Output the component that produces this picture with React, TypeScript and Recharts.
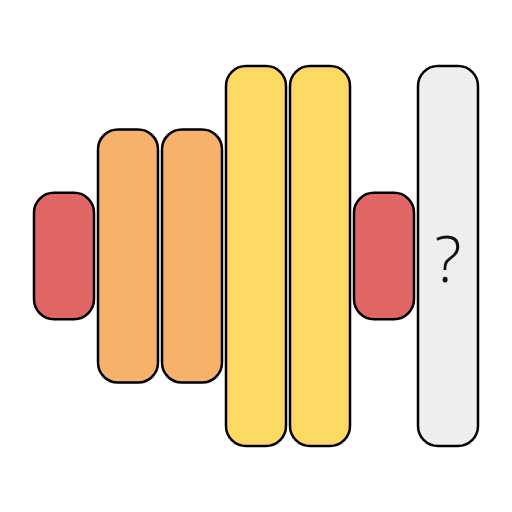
import { BarChart, Bar, XAxis, YAxis, Cell, LabelList } from "recharts";

// floating bars centred on zero: [low, high]
const categories = ["a", "b", "c", "d", "e", "f", "g"];
const lows = [-1, -2, -2, -3, -3, -1, -3];
const highs = [1, 2, 2, 3, 3, 1, 3];
const labels = ["", "", "", "", "", "", "?"];
const colors = ["#E06666", "#F6B26B", "#F6B26B", "#FFD966", "#FFD966", "#E06666", "#EEEEEE"];

const data = categories.map((c, i) => ({
  name: c,
  range: [lows[i], highs[i]],
  label: labels[i],
}));

export default function App() {
  return (
    <div style={{ position: "absolute", left: 0, top: 0, width: 512, height: 512, background: "#fff" }}>
      <BarChart
        width={512}
        height={512}
        data={data}
        margin={{ top: 0, right: 32, bottom: 0, left: 32 }}
        barSize={60}
      >
        <XAxis dataKey="name" hide />
        <YAxis hide domain={[-4.044, 4.044]} />
        <Bar dataKey="range" radius={20} stroke="#000" strokeWidth={2.5} isAnimationActive={false}>
          {data.map((_, i) => (
            <Cell key={i} fill={colors[i]} />
          ))}
          <LabelList
            dataKey="label"
            position="center"
            fill="#111"
            fontSize={64}
            fontWeight={300}
            fontFamily="'Open Sans', sans-serif"
            dy={3}
          />
        </Bar>
      </BarChart>
    </div>
  );
}
